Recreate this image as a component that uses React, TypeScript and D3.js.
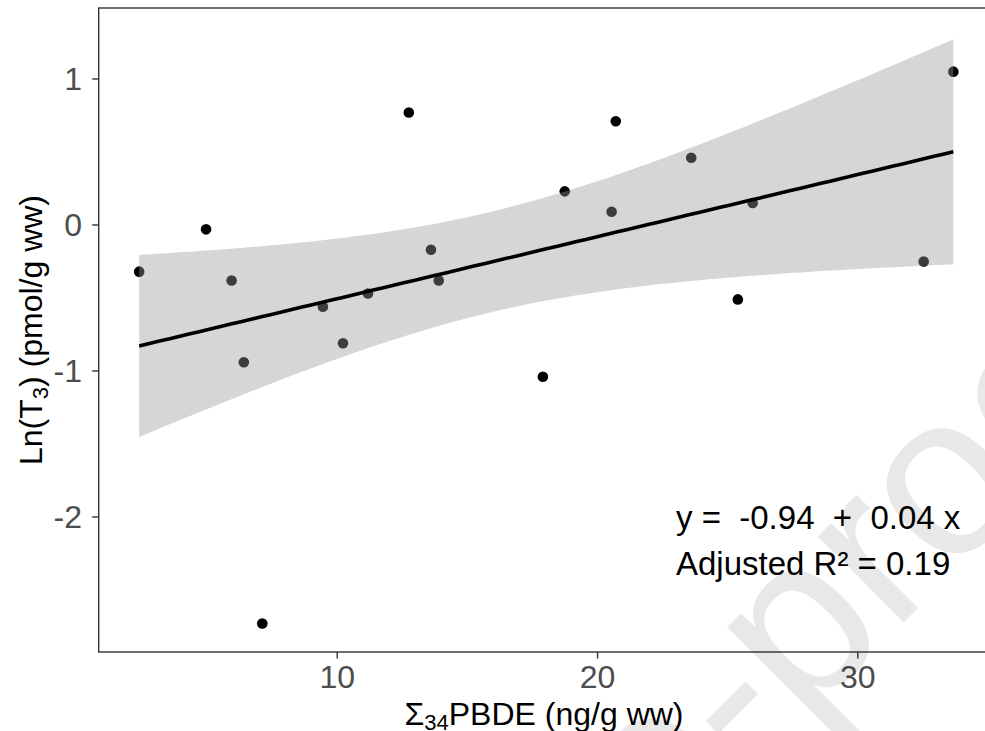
import React, { useEffect, useRef } from 'react';
import * as d3 from 'd3';

// sum of 34 PBDE congeners (ng/g ww) and ln(T3) (pmol/g ww), one entry per sample
const pbde = [2.39, 4.96, 5.94, 6.41, 7.12, 9.45, 10.22, 11.18, 12.75, 13.6,
    13.9, 17.9, 18.74, 20.54, 20.7, 23.6, 25.39, 25.96, 32.53, 33.67];
const lnT3 = [-0.32, -0.03, -0.38, -0.94, -2.73, -0.56, -0.81, -0.47, 0.77, -0.17,
    -0.38, -1.04, 0.23, 0.09, 0.71, 0.46, -0.51, 0.15, -0.25, 1.05];

const xTicks = [10, 20, 30];
const yTicks = [-2, -1, 0, 1];
const eqLabel = "y =  -0.94  +  0.04 x";
const r2Label = "Adjusted R\u00b2 = 0.19";

const width = 985;
const height = 731;
const margin = { top: 8, right: -10, bottom: 79, left: 98.7 };
const font = "'Liberation Sans', Arial, Helvetica, sans-serif";

const fitLine = (xs, ys) => {
    const n = xs.length;
    const xbar = d3.mean(xs);
    const ybar = d3.mean(ys);
    const sxx = d3.sum(xs, x => (x - xbar) ** 2);
    const sxy = d3.sum(xs, (x, i) => (x - xbar) * (ys[i] - ybar));
    const b = sxy / sxx;
    const a = ybar - b * xbar;
    const sse = d3.sum(xs, (x, i) => (ys[i] - a - b * x) ** 2);
    const s = Math.sqrt(sse / (n - 2));
    const t = 2.1009; // qt(0.975, 18)
    const [lo, hi] = d3.extent(xs);
    return d3.range(81).map(k => {
        const x = lo + (hi - lo) * k / 80;
        const fit = a + b * x;
        const se = s * Math.sqrt(1 / n + (x - xbar) ** 2 / sxx);
        return { x, fit, lower: fit - t * se, upper: fit + t * se };
    });
};

const Scatter = () => {
    const wrapper = useRef(null);

    useEffect(() => {
        d3.select(wrapper.current).selectAll("svg").remove();

        const svg = d3.select(wrapper.current)
            .append("svg")
            .attr("width", width)
            .attr("height", height)
            .style("position", "absolute")
            .style("left", 0)
            .style("top", 0)
            .style("background", "#fff");

        const x = d3.scaleLinear()
            .domain([0.835, 35.27])
            .range([margin.left, width - margin.right]);
        const y = d3.scaleLinear()
            .domain([-2.925, 1.486])
            .range([height - margin.bottom, margin.top]);

        const band = fitLine(pbde, lnT3);

        // points first, the ribbon goes over them like geom_smooth does
        svg.append("g")
            .selectAll("circle")
            .data(pbde)
            .join("circle")
            .attr("cx", d => x(d))
            .attr("cy", (d, i) => y(lnT3[i]))
            .attr("r", 5.3)
            .attr("fill", "#000");

        svg.append("path")
            .datum(band)
            .attr("fill", "#999999")
            .attr("fill-opacity", 0.4)
            .attr("d", d3.area()
                .x(d => x(d.x))
                .y0(d => y(d.lower))
                .y1(d => y(d.upper)));

        svg.append("path")
            .datum(band)
            .attr("fill", "none")
            .attr("stroke", "#000")
            .attr("stroke-width", 3.6)
            .attr("d", d3.line()
                .x(d => x(d.x))
                .y(d => y(d.fit)));

        // panel border
        svg.append("rect")
            .attr("x", margin.left)
            .attr("y", margin.top)
            .attr("width", width - margin.right - margin.left)
            .attr("height", height - margin.bottom - margin.top)
            .attr("fill", "none")
            .attr("stroke", "#333")
            .attr("stroke-width", 1.4);

        // ticks
        svg.append("g")
            .selectAll("line")
            .data(xTicks)
            .join("line")
            .attr("x1", d => x(d)).attr("x2", d => x(d))
            .attr("y1", height - margin.bottom)
            .attr("y2", height - margin.bottom + 6.5)
            .attr("stroke", "#333")
            .attr("stroke-width", 1.4);

        svg.append("g")
            .selectAll("line")
            .data(yTicks)
            .join("line")
            .attr("x1", margin.left - 6.5).attr("x2", margin.left)
            .attr("y1", d => y(d)).attr("y2", d => y(d))
            .attr("stroke", "#333")
            .attr("stroke-width", 1.4);

        svg.append("g")
            .selectAll("text")
            .data(xTicks)
            .join("text")
            .attr("x", d => x(d))
            .attr("y", 688)
            .attr("text-anchor", "middle")
            .attr("font-family", font)
            .attr("font-size", 32)
            .attr("fill", "#4d4d4d")
            .text(d => d);

        svg.append("g")
            .selectAll("text")
            .data(yTicks)
            .join("text")
            .attr("x", 82)
            .attr("y", d => y(d))
            .attr("dy", "0.36em")
            .attr("text-anchor", "end")
            .attr("font-family", font)
            .attr("font-size", 32)
            .attr("fill", "#4d4d4d")
            .text(d => d);

        // axis titles
        const xTitle = svg.append("text")
            .attr("x", 544)
            .attr("y", 725)
            .attr("text-anchor", "middle")
            .attr("font-family", font)
            .attr("font-size", 32)
            .attr("fill", "#000");
        xTitle.append("tspan").text("\u03a3");
        xTitle.append("tspan").attr("font-size", 22).attr("dy", 5).text("34");
        xTitle.append("tspan").attr("dy", -5).text("PBDE (ng/g ww)");

        const yTitle = svg.append("text")
            .attr("transform", `translate(42,${(margin.top + height - margin.bottom) / 2}) rotate(-90)`)
            .attr("text-anchor", "middle")
            .attr("font-family", font)
            .attr("font-size", 32)
            .attr("fill", "#000");
        yTitle.append("tspan").text("Ln(T");
        yTitle.append("tspan").attr("font-size", 22).attr("dy", 6).text("3");
        yTitle.append("tspan").attr("dy", -6).text(") (pmol/g ww)");

        // regression label
        svg.append("g")
            .selectAll("text")
            .data([eqLabel, r2Label])
            .join("text")
            .attr("x", 676)
            .attr("y", (d, i) => 529 + i * 46)
            .attr("font-family", font)
            .attr("font-size", 33)
            .attr("fill", "#000")
            .style("white-space", "pre")
            .text(d => d);

        // page watermark
        const mark = svg.append("g")
            .attr("transform", "translate(748,778) rotate(-45)")
            .attr("font-family", font)
            .attr("font-size", 230)
            .attr("fill", "#000")
            .attr("fill-opacity", 0.09);
        mark.append("text").attr("text-anchor", "end").text("Journal Pre");
        mark.append("text").attr("text-anchor", "start").text("-proof");

    }, []);

    return <div ref={wrapper} />;
};

export default function App() {
    return <Scatter />;
}
